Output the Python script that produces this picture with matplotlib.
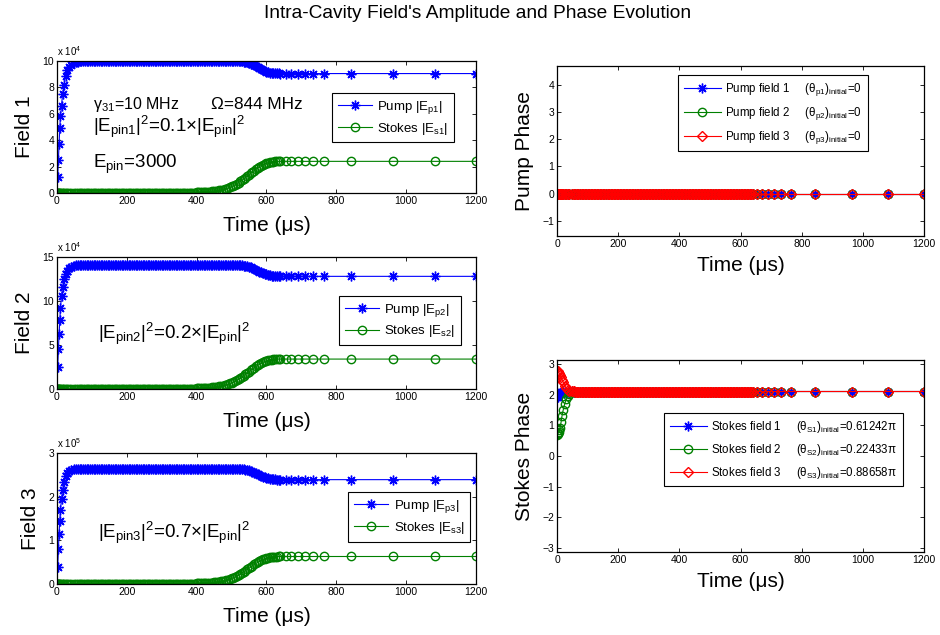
import numpy as np
import matplotlib.pyplot as plt

plt.rcParams['font.family'] = ['Liberation Sans', 'DejaVu Sans']
plt.rcParams['mathtext.fontset'] = 'custom'
plt.rcParams['mathtext.rm'] = 'Liberation Sans'
plt.rcParams['mathtext.it'] = 'Liberation Sans'
plt.rcParams['mathtext.bf'] = 'Liberation Sans:bold'

# time samples (us): dense solver steps up to ~640 us, then sparse
t_rise = [0, 2, 4, 6, 8, 10, 13, 16, 20, 25, 30, 35, 40]
t_mid = [50, 55, 60, 65, 70, 75, 80, 85, 90, 95, 100, 105, 110, 115, 120,
         125, 130, 135, 140, 145, 150, 155, 160, 165, 170, 175, 180, 185, 190,
         195, 200, 205, 210, 215, 220, 225, 230, 235, 240, 245, 250, 255, 260,
         265, 270, 275, 280, 285, 290, 295, 300, 305, 310, 315, 320, 325, 330,
         335, 340, 345, 350, 355, 360, 365, 370, 375, 380, 385, 390, 395, 400,
         405, 410, 415, 420, 425, 430, 435, 440, 445, 450, 455, 460, 465, 470,
         475, 480, 485, 490, 495, 500, 505, 510, 515, 520, 525, 530, 535, 540,
         545, 550, 555, 560, 565, 570, 575, 580, 585, 590, 595, 600, 605, 610,
         615, 620, 625, 630, 635, 640]
t_tail = [655, 670, 690, 710, 733, 766, 842, 963, 1083, 1200]
time = t_rise + t_mid + t_tail

# field amplitudes, field 1 and 2 in units of 1e4, field 3 in units of 1e5
# pump: rise (0-40), 50-65, plateau 70-495, drop 500-640, tail
pump1 = ([0, 1.2, 2.5, 3.7, 4.9, 5.8, 6.6, 7.5, 8.2, 8.9, 9.3, 9.55, 9.7]
         + [9.88, 9.93, 9.96, 9.98] + [10.0] * 86
         + [10.0, 10.0, 10.0, 9.995, 9.99, 9.98, 9.97, 9.95, 9.93, 9.89,
            9.85, 9.8, 9.74, 9.67, 9.6, 9.52, 9.45, 9.37, 9.3, 9.25,
            9.2, 9.16, 9.12, 9.1, 9.08, 9.07, 9.06, 9.055, 9.05]
         + [9.05] * 10)
pump2 = ([0, 2.5, 4.5, 6.2, 7.8, 9.2, 10.6, 11.6, 12.5, 13.1, 13.45, 13.7, 13.85]
         + [14.0, 14.04, 14.07, 14.09] + [14.1] * 86
         + [14.1, 14.1, 14.1, 14.09, 14.09, 14.07, 14.06, 14.03, 14.0, 13.95,
            13.9, 13.83, 13.74, 13.65, 13.55, 13.44, 13.35, 13.24, 13.14, 13.07,
            13.01, 12.95, 12.9, 12.87, 12.84, 12.83, 12.81, 12.81, 12.8]
         + [12.8] * 10)
pump3 = ([0, 0.4, 0.8, 1.15, 1.45, 1.7, 1.95, 2.15, 2.33, 2.47, 2.55, 2.59, 2.61]
         + [2.63, 2.635, 2.64, 2.64] + [2.64] * 86
         + [2.64, 2.64, 2.64, 2.64, 2.64, 2.635, 2.63, 2.63, 2.62, 2.61,
            2.6, 2.59, 2.57, 2.55, 2.54, 2.51, 2.5, 2.47, 2.46, 2.44,
            2.43, 2.42, 2.41, 2.4, 2.4, 2.395, 2.39, 2.39, 2.39]
         + [2.39] * 10)
# stokes: near zero up to 395, growth 400-640, tail
stokes1 = ([0.0] + [0.02] * 82
           + [0.05, 0.055, 0.06, 0.065, 0.07, 0.08, 0.09, 0.1, 0.11, 0.125,
              0.14, 0.16, 0.18, 0.2, 0.23, 0.26, 0.3, 0.34, 0.39, 0.44,
              0.5, 0.56, 0.63, 0.71, 0.79, 0.88, 0.97, 1.07, 1.17, 1.28,
              1.39, 1.5, 1.6, 1.7, 1.81, 1.9, 2.0, 2.08, 2.15, 2.21,
              2.27, 2.31, 2.34, 2.36, 2.38, 2.39, 2.4, 2.4, 2.4]
           + [2.4] * 10)
stokes2 = ([0.0] + [0.03] * 82
           + [0.07, 0.078, 0.085, 0.092, 0.1, 0.116, 0.13, 0.14, 0.16, 0.18,
              0.2, 0.22, 0.26, 0.29, 0.33, 0.37, 0.43, 0.48, 0.55, 0.63,
              0.71, 0.8, 0.89, 1.0, 1.12, 1.24, 1.37, 1.51, 1.66, 1.81,
              1.97, 2.13, 2.27, 2.41, 2.56, 2.69, 2.83, 2.94, 3.05, 3.13,
              3.22, 3.27, 3.32, 3.35, 3.37, 3.39, 3.4, 3.4, 3.4]
           + [3.4] * 10)
stokes3 = ([0.0] + [0.006] * 82
           + [0.013, 0.014, 0.016, 0.017, 0.019, 0.021, 0.024, 0.026, 0.029, 0.033,
              0.037, 0.042, 0.047, 0.054, 0.06, 0.069, 0.079, 0.089, 0.103, 0.117,
              0.131, 0.148, 0.166, 0.186, 0.207, 0.23, 0.255, 0.28, 0.307, 0.335,
              0.365, 0.394, 0.42, 0.447, 0.475, 0.499, 0.525, 0.545, 0.564, 0.58,
              0.596, 0.606, 0.614, 0.621, 0.625, 0.627, 0.629, 0.63, 0.63]
           + [0.63] * 10)

# phases (rad)
pump_phase = [0.0] * len(time)
sphase1 = [1.92, 1.94, 1.97, 2.0, 2.03, 2.06, 2.09, 2.1, 2.11, 2.11, 2.11, 2.11, 2.11] + [2.11] * 129
sphase2 = ([0.70, 0.72, 0.75, 0.79, 0.85, 0.93, 1.1, 1.3, 1.5, 1.7, 1.85, 1.95, 2.02]
           + [2.08, 2.095, 2.1] + [2.11] * 126)
sphase3 = ([2.79, 2.78, 2.76, 2.73, 2.69, 2.65, 2.58, 2.5, 2.42, 2.3, 2.22, 2.17, 2.14]
           + [2.12, 2.115] + [2.11] * 127)

ratios = ['0.1', '0.2', '0.7']
stokes_init = ['0.61242', '0.22433', '0.88658']

blue = (0, 0, 1)
green = (0, 0.5, 0)
red = (1, 0, 0)
star = (8, 2, 0)
star_kw = dict(marker=star, ms=7, mew=1.0, lw=0.8)
circ_kw = dict(marker='o', ms=6, mew=1.0, mfc='none', lw=0.8)
diam_kw = dict(marker='D', ms=5, mew=1.0, mfc='none', lw=0.8)

fig = plt.figure(figsize=(9.4, 6.35), dpi=100)
fig.text(0.508, 0.978, "Intra-Cavity Field's Amplitude and Phase Evolution",
         ha='center', va='center', fontsize=13.8)


def style(ax, ylim, yticks, xpad):
    ax.set_xlim(0, 1200)
    ax.set_xticks(range(0, 1201, 200))
    ax.set_ylim(*ylim)
    ax.set_yticks(yticks)
    ax.tick_params(direction='in', top=True, right=True, labelsize=7.5,
                   length=3, width=0.6, pad=2)
    for s in ax.spines.values():
        s.set_linewidth(0.9)
    ax.set_xlabel('Time (μs)', fontsize=15, labelpad=xpad)


def box_legend(ax, anchor, fs, hl, ls, bp):
    leg = ax.legend(loc='upper left', bbox_to_anchor=anchor, fontsize=fs,
                    handlelength=hl, fancybox=False, edgecolor='black',
                    framealpha=1, borderpad=bp, labelspacing=ls,
                    handletextpad=0.4, borderaxespad=0)
    leg.get_frame().set_linewidth(0.8)


# amplitude panels
amp_pos = [[0.0606, 0.696, 0.4457, 0.2079],
           [0.0606, 0.3874, 0.4457, 0.2079],
           [0.0606, 0.0803, 0.4457, 0.2063]]
amp_pump = [pump1, pump2, pump3]
amp_stokes = [stokes1, stokes2, stokes3]
amp_ylim = [(0, 10), (0, 15), (0, 3)]
amp_ticks = [range(0, 11, 2), range(0, 16, 5), range(0, 4)]
amp_exp = ['4', '4', '5']
leg_anchor = [(0.656, 0.758), (0.673, 0.705), (0.695, 0.702)]
txt_y = [0.50, 0.42, 0.39]

for i in range(3):
    ax = fig.add_axes(amp_pos[i])
    ax.plot(time, amp_pump[i], color=blue, label='Pump $|E_{p%d}|$' % (i + 1),
            **star_kw)
    ax.plot(time, amp_stokes[i], color=green,
            label='Stokes $|E_{s%d}|$' % (i + 1), **circ_kw)
    style(ax, amp_ylim[i], amp_ticks[i], 7)
    ax.set_ylabel('Field %d' % (i + 1), fontsize=15, labelpad=6)
    ax.text(0.0, 1.02, 'x 10$^{%s}$' % amp_exp[i], transform=ax.transAxes,
            fontsize=7, va='bottom', ha='left')
    box_legend(ax, leg_anchor[i], 9.5, 2.6, 0.35, 0.45)
    x0 = 0.086 if i == 0 else 0.098
    ax.text(x0, txt_y[i],
            '$|E_{pin%d}|^2$=%s$\\times$$|E_{pin}|^2$' % (i + 1, ratios[i]),
            transform=ax.transAxes, fontsize=13.5, va='center')
    if i == 0:
        ax.text(0.086, 0.67, 'γ$_{31}$=10 MHz', transform=ax.transAxes,
                fontsize=11.5, va='center')
        ax.text(0.367, 0.67, 'Ω=844 MHz', transform=ax.transAxes,
                fontsize=12.3, va='center')
        ax.text(0.086, 0.22, 'E$_{pin}$=3000', transform=ax.transAxes,
                fontsize=13.5, va='center')

# pump phase
ax = fig.add_axes([0.5926, 0.6283, 0.3904, 0.2677])
ax.plot(time, pump_phase, color=blue,
        label='Pump field 1     $(\\theta_{p1})_{initial}$=0', **star_kw)
ax.plot(time, pump_phase, color=green,
        label='Pump field 2     $(\\theta_{p2})_{initial}$=0', **circ_kw)
ax.plot(time, pump_phase, color=red,
        label='Pump field 3     $(\\theta_{p3})_{initial}$=0', **diam_kw)
style(ax, (-np.pi / 2, 3 * np.pi / 2), range(-1, 5), 5)
ax.set_ylabel('Pump Phase', fontsize=15, labelpad=6)
box_legend(ax, (0.33, 0.947), 8.3, 3.2, 0.6, 0.5)

# stokes phase
ax = fig.add_axes([0.5926, 0.1307, 0.3904, 0.3024])
for ph, c, kw, k in [(sphase1, blue, star_kw, 0), (sphase2, green, circ_kw, 1),
                     (sphase3, red, diam_kw, 2)]:
    lab = ('Stokes field %d     $(\\theta_{S%d})_{initial}$=%sπ'
           % (k + 1, k + 1, stokes_init[k]))
    ax.plot(time, ph, color=c, label=lab, **kw)
style(ax, (-np.pi, np.pi), range(-3, 4), 5)
ax.set_ylabel('Stokes Phase', fontsize=15, labelpad=6)
box_legend(ax, (0.2916, 0.724), 8.3, 3.2, 0.6, 0.5)

fig.savefig('out.png', dpi=100)
